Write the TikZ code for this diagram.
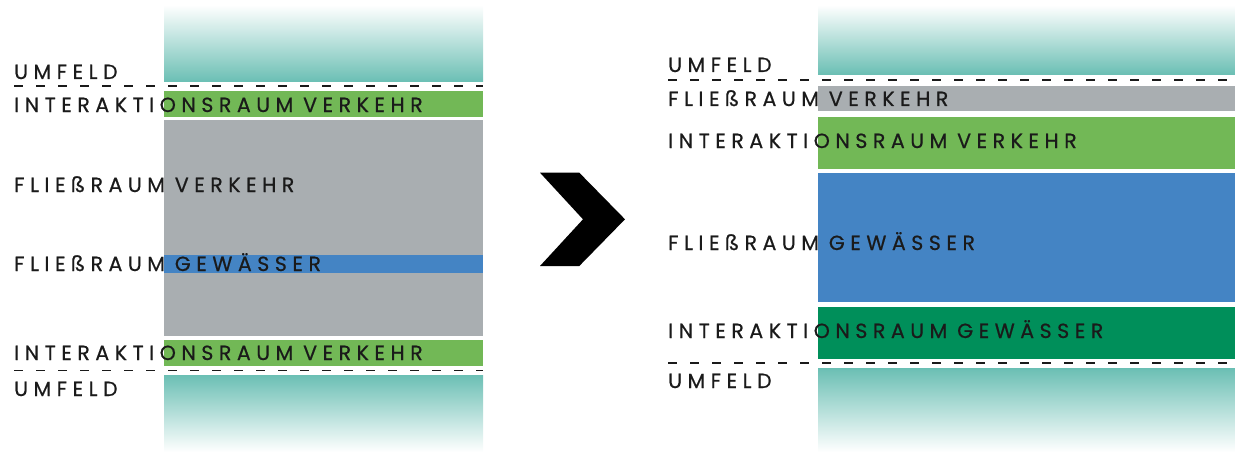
\documentclass[tikz,border=0pt]{standalone}
\usepackage{fontspec}
\usepackage{xcolor}
\usetikzlibrary{positioning}

\newfontfamily\zonefont[LetterSpace=27,WordSpace=0.9,FakeBold=0.6]{Poppins}

\definecolor{umfeld}{HTML}{6BBFB4}
\definecolor{iverkehr}{HTML}{72B856}
\definecolor{fverkehr}{HTML}{A9AEB1}
\definecolor{fgewaesser}{HTML}{4484C4}
\definecolor{igewaesser}{HTML}{008F5A}
\definecolor{schrift}{HTML}{1A1A1A}

\begin{document}
\begin{tikzpicture}[
    x=1pt, y=-1pt,
    umfeldoben/.style={top color=white, bottom color=umfeld, draw=none},
    umfeldunten/.style={top color=umfeld, bottom color=white, draw=none},
    grenze/.style={line width=1.8pt, dash pattern=on 9pt off 13pt, color=schrift},
    zone/.style={anchor=base west, inner sep=0pt, text=schrift, font=\zonefont\fontsize{20.5}{23}\selectfont}
]
\useasboundingbox (0,0) rectangle (1235,452);

% Bestand: Querschnitt links
\fill[umfeldoben]  (164,5)     rectangle (483,81.7);
\fill[iverkehr]    (164,90.7)  rectangle (483,117.3);
\fill[fverkehr]    (164,120.3) rectangle (483,336);
\fill[fgewaesser]  (164,255)   rectangle (483,272.5);
\fill[iverkehr]    (164,339.5) rectangle (483,366);
\fill[umfeldunten] (164,375)   rectangle (483,452);

\coordinate (la) at (14,86);
\coordinate (lb) at (483,86);
\coordinate (lc) at (14,370.5);
\coordinate (ld) at (483,370.5);
\draw[grenze] (la) -- (lb);
\draw[grenze] (lc) -- (ld);

\node[zone] (l-umfeld1) at (14,79)  {UMFELD};
\node[zone] (l-iv1)     at (14,112) {INTERAKTIONSRAUM VERKEHR};
\node[zone] (l-fv)      at (14,192) {FLIEßRAUM VERKEHR};
\node[zone] (l-fg)      at (14,271) {FLIEßRAUM GEWÄSSER};
\node[zone] (l-iv2)     at (14,360) {INTERAKTIONSRAUM VERKEHR};
\node[zone] (l-umfeld2) at (14,396) {UMFELD};

% Pfeil
\fill[black] (540,172.7) -- (579.3,172.7) -- (625,219.3) -- (579.3,266)
    -- (540,266) -- (583,219.3) -- cycle;

% Planung: Querschnitt rechts
\fill[umfeldoben]  (818,5)     rectangle (1235,74.3);
\fill[fverkehr]    (818,86)    rectangle (1235,110.7);
\fill[iverkehr]    (818,116.7) rectangle (1235,169.3);
\fill[fgewaesser]  (818,173.3) rectangle (1235,302.3);
\fill[igewaesser]  (818,306.7) rectangle (1235,359.3);
\fill[umfeldunten] (818,368.3) rectangle (1235,452);

\coordinate (ra) at (668,80);
\coordinate (rb) at (1235,80);
\coordinate (rc) at (668,362.7);
\coordinate (rd) at (1235,362.7);
\draw[grenze] (ra) -- (rb);
\draw[grenze] (rc) -- (rd);

\node[zone] (r-umfeld1) at (668,72)  {UMFELD};
\node[zone] (r-fv)      at (668,106) {FLIEßRAUM VERKEHR};
\node[zone] (r-iv)      at (668,148) {INTERAKTIONSRAUM VERKEHR};
\node[zone] (r-fg)      at (668,250) {FLIEßRAUM GEWÄSSER};
\node[zone] (r-ig)      at (668,338) {INTERAKTIONSRAUM GEWÄSSER};
\node[zone] (r-umfeld2) at (668,388) {UMFELD};

\end{tikzpicture}
\end{document}
